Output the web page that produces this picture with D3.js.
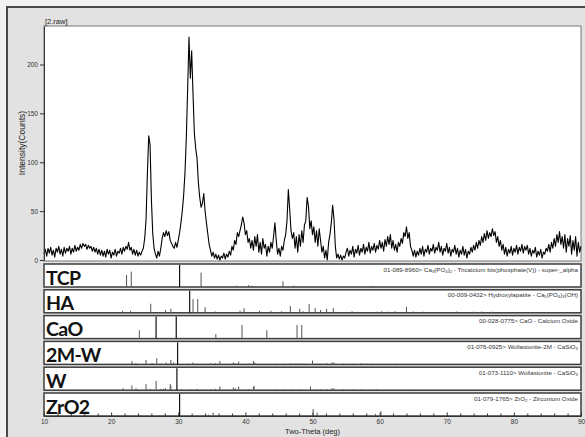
<!DOCTYPE html>
<html>
<head>
<meta charset="utf-8">
<script src="https://cdn.jsdelivr.net/npm/d3@7"></script>
<style>
  body { margin: 0; background: #f2f2f2; }
  svg { display: block; }
</style>
</head>
<body>
<div id="chart"></div>
<script>
'use strict';

// raw scan: counts every 0.2 deg, 10 -> 90 (one row per degree)
var scanStart = 10, scanStep = 0.2;
var counts = [
  6, 11, 4, 12, 7,        // 10
  13, 5, 10, 3, 12,       // 11
  8, 14, 6, 11, 4,        // 12
  13, 7, 12, 9, 14,       // 13
  6, 12, 8, 15, 9,        // 14
  13, 10, 16, 12, 17,     // 15
  14, 16, 11, 15, 12,     // 16
  14, 9, 13, 8, 12,       // 17
  6, 11, 5, 10, 4,        // 18
  9, 3, 11, 6, 10,        // 19
  2, 8, 5, 11, 4,         // 20
  9, 7, 12, 6, 13,        // 21
  9, 14, 11, 18, 10,      // 22
  13, 6, 11, 5, 10,       // 23
  4, 8, 5, 9, 12,         // 24
  22, 41, 88, 127, 118,   // 25
  62, 27, 12, 6, 2,       // 26
  9, 4, 12, 22, 28,       // 27
  24, 30, 25, 29, 20,     // 28
  17, 14, 12, 18, 13,     // 29
  20, 28, 38, 50, 66,     // 30
  89, 125, 175, 228, 186, // 31
  214, 170, 130, 114, 104,// 32
  79, 64, 54, 58, 68,     // 33
  50, 38, 27, 16, 10,     // 34
  4, 8, 2, 6, 1,          // 35
  5, 0, 4, 2, 7,          // 36
  1, 6, 3, 9, 5,          // 37
  14, 10, 20, 16, 28,     // 38
  24, 30, 36, 44, 38,     // 39
  26, 30, 18, 22, 12,     // 40
  20, 10, 24, 14, 26,     // 41
  8, 18, 6, 22, 12,       // 42
  16, 4, 14, 8, 18,       // 43
  12, 24, 38, 20, 6,      // 44
  12, 4, 14, 10, 20,      // 45
  26, 40, 72, 52, 30,     // 46
  22, 28, 12, 24, 8,      // 47
  26, 14, 30, 18, 36,     // 48
  40, 64, 55, 32, 40,     // 49
  26, 34, 18, 30, 14,     // 50
  32, 20, 8, 14, 2,       // 51
  10, 0, 18, 26, 38,      // 52
  56, 42, 14, 2, 6,       // 53
  1, 5, 0, 4, 2,          // 54
  8, 12, 4, 10, 6,        // 55
  14, 3, 11, 7, 15,       // 56
  5, 12, 8, 16, 6,        // 57
  13, 9, 18, 7, 14,       // 58
  10, 17, 8, 15, 11,      // 59
  20, 12, 18, 9, 21,      // 60
  14, 24, 16, 26, 12,     // 61
  20, 10, 16, 8, 18,      // 62
  14, 22, 17, 28, 24,     // 63
  34, 22, 28, 14, 10,     // 64
  4, 10, 3, 9, 5,         // 65
  12, 6, 14, 4, 11,       // 66
  8, 15, 6, 12, 9,        // 67
  16, 7, 13, 10, 18,      // 68
  8, 14, 5, 12, 9,        // 69
  17, 7, 13, 4, 11,       // 70
  8, 15, 6, 12, 3,        // 71
  10, 6, 14, 5, 11,       // 72
  2, 9, 6, 13, 8,         // 73
  15, 10, 18, 12, 20,     // 74
  15, 24, 18, 27, 20,     // 75
  30, 22, 28, 24, 32,     // 76
  25, 29, 18, 24, 14,     // 77
  20, 10, 16, 6, 13,      // 78
  4, 11, 7, 14, 5,        // 79
  12, 8, 15, 6, 13,       // 80
  9, 16, 7, 14, 10,       // 81
  15, 6, 12, 4, 10,       // 82
  7, 13, 3, 9, 5,         // 83
  11, 2, 8, 6, 12,        // 84
  9, 16, 8, 18, 12,       // 85
  22, 14, 26, 18, 29,     // 86
  16, 24, 12, 26, 8,      // 87
  22, 14, 25, 6, 20,      // 88
  10, 24, 4, 18, 8,       // 89
  14                      // 90
];

// reference patterns: [2theta, relative intensity %]
var phaseLabels = ["TCP", "HA", "CaO", "2M-W", "W", "ZrO2"];
// "~n" marks a subscript digit
var phaseCards = [
  "01-089-8960> Ca~3(PO~4)~2 - Tricalcium bis(phosphate(V)) - super-_alpha",
  "00-009-0432> Hydroxylapatite - Ca~5(PO~4)~3(OH)",
  "00-028-0775> CaO - Calcium Oxide",
  "01-076-0925> Wollastonite-2M - CaSiO~3",
  "01-073-1110> Wollastonite - CaSiO~3",
  "01-079-1765> ZrO~2 - Zirconium Oxide"
];
var tcpPeaks = [
  [19.1, 3], [22.3, 55], [23.0, 70], [30.2, 100], [33.4, 65], [38.7, 6], [40.5, 9],
  [41.0, 6], [45.6, 26], [47.2, 6], [57.6, 4], [59.0, 5], [61.5, 3], [65.3, 3],
  [70.0, 3], [76.5, 4], [84.0, 3], [88.5, 3]
];
var haPeaks = [
  [21.7, 9], [22.9, 9], [25.3, 4], [25.9, 41], [28.1, 13], [28.9, 18], [31.7, 100],
  [32.2, 62], [32.9, 62], [34.0, 26], [35.5, 6], [39.2, 10], [39.8, 21], [40.5, 4],
  [42.1, 9], [43.8, 9], [44.3, 4], [45.4, 7], [46.7, 31], [48.1, 18], [48.6, 7],
  [49.5, 40], [50.4, 21], [51.2, 13], [52.1, 18], [53.1, 21], [54.4, 4], [55.9, 7],
  [56.8, 4], [59.6, 5], [60.3, 7], [61.2, 5], [62.3, 7], [64.0, 28], [65.0, 6],
  [66.5, 5], [70.0, 4], [71.5, 6], [73.0, 4], [74.0, 5], [75.2, 6], [76.7, 5], [78.5, 4]
];
var caoPeaks = [
  [24.2, 38], [26.7, 100], [29.7, 100], [35.6, 21], [39.5, 62], [43.2, 38],
  [47.7, 62], [48.4, 62]
];
var wollastonite2MPeaks = [
  [21.7, 3], [23.1, 15], [23.7, 6], [25.2, 20], [26.1, 6], [26.8, 28], [27.5, 4],
  [28.2, 9], [28.9, 20], [29.3, 9], [29.9, 100], [31.5, 4], [32.2, 9], [32.9, 4],
  [34.8, 6], [35.5, 6], [36.2, 15], [38.2, 9], [38.5, 6], [39.0, 13], [40.5, 4],
  [41.2, 15], [41.4, 9], [44.7, 4], [45.9, 4], [46.8, 4], [47.4, 4], [47.9, 4],
  [48.5, 4], [49.0, 4], [50.0, 17], [50.6, 4], [51.1, 4], [52.1, 6], [52.9, 9],
  [53.2, 9], [54.6, 4], [56.1, 4], [57.3, 5], [58.1, 3], [59.0, 4], [60.1, 3],
  [62.3, 4], [64.5, 3]
];
var wollastonitePeaks = [
  [21.8, 9], [23.1, 22], [23.7, 9], [25.2, 28], [25.8, 6], [26.7, 42], [27.4, 6],
  [27.8, 6], [28.1, 9], [28.8, 28], [28.9, 20], [29.8, 100], [30.5, 4], [31.8, 4],
  [32.8, 6], [34.8, 4], [35.5, 6], [36.2, 17], [38.2, 13], [38.5, 9], [39.0, 17],
  [40.5, 4], [41.2, 15], [41.3, 20], [44.7, 4], [45.6, 4], [47.1, 4], [48.3, 4],
  [49.7, 17], [50.6, 4], [51.3, 5], [52.1, 4], [52.9, 9], [53.2, 9], [54.6, 4],
  [56.1, 4], [57.3, 4], [58.5, 3], [59.6, 4], [61.8, 3], [64.5, 3]
];
var zro2Peaks = [
  [30.2, 100], [34.5, 6], [35.2, 15], [50.1, 32], [50.7, 15], [59.4, 10], [60.2, 22],
  [63.0, 5], [74.5, 3], [81.9, 3], [84.5, 3], [85.2, 3]
];
var phasePeaks = [tcpPeaks, haPeaks, caoPeaks, wollastonite2MPeaks, wollastonitePeaks, zro2Peaks];

var xTicks = [10, 20, 30, 40, 50, 60, 70, 80, 90];
var xMinorTicks = [12, 14, 16, 18, 22, 24, 26, 28, 32, 34, 36, 38, 42, 44, 46, 48,
                   52, 54, 56, 58, 62, 64, 66, 68, 72, 74, 76, 78, 82, 84, 86, 88];
var yTicks = [0, 50, 100, 150, 200];

var svgWidth = 585, svgHeight = 437,
    plot = { left: 44, right: 581, top: 26, bottom: 261 },
    panelTop = 264, panelPitch = 25.8, panelHeight = 23,
    tickFont = "Liberation Sans, Arial, sans-serif";

var svg = d3.select("#chart")
  .append("svg")
  .attr("width", svgWidth)
  .attr("height", svgHeight);

// window frame
svg.append("rect")
  .attr("x", 7)
  .attr("y", 7)
  .attr("width", svgWidth + 20)
  .attr("height", svgHeight + 20)
  .attr("fill", "#e2e2e2")
  .attr("stroke", "#4a4a4a")
  .attr("stroke-width", 2);

var x = d3.scaleLinear()
  .domain([10, 90])
  .range([plot.left, plot.right]);

var y = d3.scaleLinear()
  .domain([0, 239.4])
  .range([260, plot.top]);

// main scan area
svg.append("rect")
  .attr("x", plot.left)
  .attr("y", plot.top)
  .attr("width", plot.right - plot.left)
  .attr("height", plot.bottom - plot.top)
  .attr("fill", "#fff")
  .attr("stroke", "#777")
  .attr("stroke-width", 1);

svg.append("text")
  .attr("x", 45)
  .attr("y", 23.5)
  .attr("font-family", tickFont)
  .attr("font-size", 7.5)
  .attr("fill", "#222")
  .text("[2.raw]");

var scan = counts.map(function(c, i) {
  return { x: scanStart + i * scanStep, y: c };
});

svg.append("path")
  .datum(scan)
  .attr("fill", "none")
  .attr("stroke", "#000")
  .attr("stroke-width", 1.1)
  .attr("stroke-linejoin", "round")
  .attr("d", d3.line()
    .x(function(d) { return x(d.x); })
    .y(function(d) { return y(d.y); })
  );

// y axis
var yAxisG = svg.append("g")
  .attr("transform", "translate(" + plot.left + ",0)")
  .call(d3.axisLeft(y).tickValues(yTicks).tickSize(4).tickSizeOuter(0).tickPadding(2));
yAxisG.select(".domain").attr("stroke", "#333");
yAxisG.selectAll(".tick line").attr("stroke", "#333");
yAxisG.selectAll(".tick text")
  .attr("font-family", tickFont)
  .attr("font-size", 6.5)
  .attr("fill", "#333");

svg.append("text")
  .attr("transform", "rotate(-90)")
  .attr("x", -143)
  .attr("y", 25)
  .attr("text-anchor", "middle")
  .attr("font-family", tickFont)
  .attr("font-size", 8.5)
  .attr("fill", "#222")
  .text("Intensity(Counts)");

// reference pattern panels
phaseLabels.forEach(function(label, i) {
  var top = panelTop + i * panelPitch;
  var base = top + panelHeight;
  var g = svg.append("g");

  g.append("rect")
    .attr("x", plot.left)
    .attr("y", top)
    .attr("width", plot.right - plot.left)
    .attr("height", panelHeight)
    .attr("fill", "#fff")
    .attr("stroke", "#3c3c3c")
    .attr("stroke-width", 1.5);

  g.selectAll("line.stick")
    .data(phasePeaks[i])
    .enter()
    .append("line")
    .attr("class", "stick")
    .attr("x1", function(d) { return x(d[0]); })
    .attr("x2", function(d) { return x(d[0]); })
    .attr("y1", base)
    .attr("y2", function(d) { return base - d[1] / 100 * (panelHeight - 1); })
    .attr("stroke", function(d) { return d[1] >= 100 ? "#111" : "#555"; })
    .attr("stroke-width", function(d) { return d[1] >= 100 ? 1.2 : 1; });

  g.append("text")
    .attr("x", 46)
    .attr("y", top + 20.5)
    .attr("font-family", "Lato, 'Open Sans', sans-serif")
    .attr("font-weight", 700)
    .attr("font-size", 19.5)
    .attr("letter-spacing", -0.6)
    .attr("fill", "#111")
    .text(label);

  // card text with subscripts
  var card = g.append("text")
    .attr("x", plot.right - 3)
    .attr("y", top + 7.5)
    .attr("text-anchor", "end")
    .attr("font-family", tickFont)
    .attr("font-size", 6.2)
    .attr("fill", "#333");
  phaseCards[i].split(/(~\d)/).forEach(function(part) {
    if (part == "") return;
    if (part.charAt(0) == "~") {
      card.append("tspan")
        .attr("font-size", 4.3)
        .attr("baseline-shift", "-25%")
        .text(part.slice(1));
    } else {
      card.append("tspan").text(part);
    }
  });
});

// x axis under the last panel
var axisY = panelTop + 5 * panelPitch + panelHeight;
var xMinorG = svg.append("g")
  .attr("transform", "translate(0," + axisY + ")")
  .call(d3.axisBottom(x).tickValues(xMinorTicks).tickFormat("").tickSize(-2.5).tickSizeOuter(0));
xMinorG.select(".domain").remove();
xMinorG.selectAll(".tick line").attr("stroke", "#333");

var xAxisG = svg.append("g")
  .attr("transform", "translate(0," + axisY + ")")
  .call(d3.axisBottom(x).tickValues(xTicks).tickSize(-3.5).tickSizeOuter(0).tickPadding(3));
xAxisG.select(".domain").attr("stroke", "#333");
xAxisG.selectAll(".tick line").attr("stroke", "#333");
xAxisG.selectAll(".tick text")
  .attr("font-family", tickFont)
  .attr("font-size", 6.5)
  .attr("fill", "#333");

svg.append("text")
  .attr("x", (plot.left + plot.right) / 2)
  .attr("y", 434)
  .attr("text-anchor", "middle")
  .attr("font-family", tickFont)
  .attr("font-size", 7.5)
  .attr("fill", "#222")
  .text("Two-Theta (deg)");
</script>
</body>
</html>
